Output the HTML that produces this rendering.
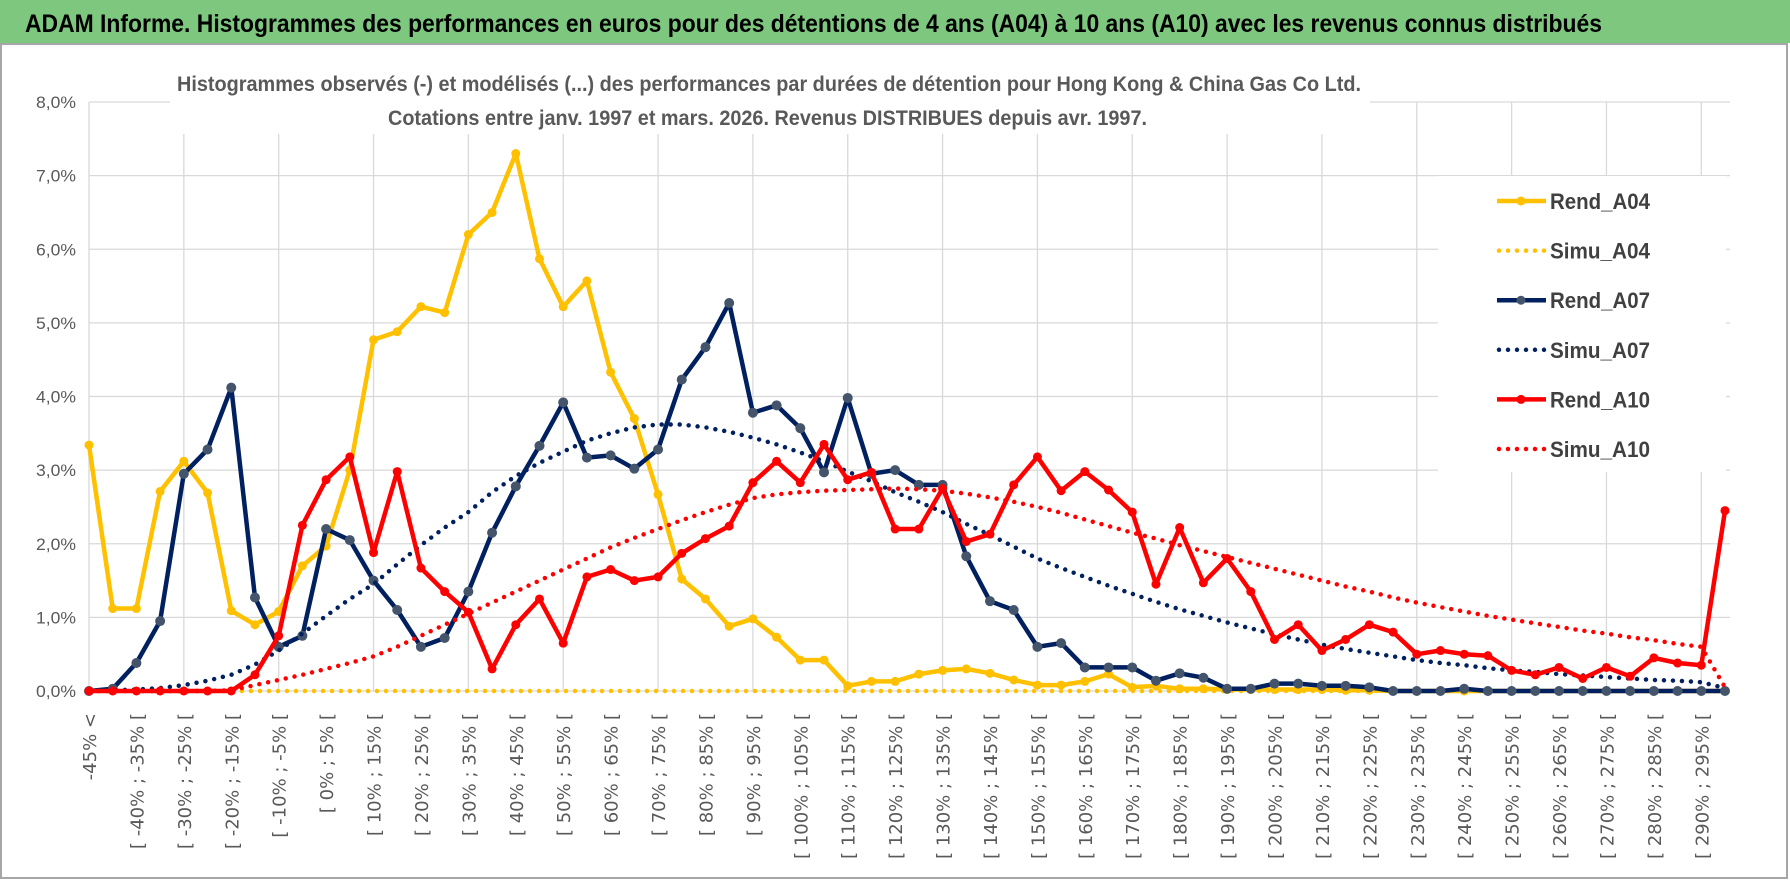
<!DOCTYPE html>
<html><head><meta charset="utf-8"><style>
html,body{margin:0;padding:0;background:#fff;}
svg{display:block;}
text{font-family:"Liberation Sans",sans-serif;}
</style></head><body>
<svg id="chart" width="1790" height="888" viewBox="0 0 1790 888" xmlns="http://www.w3.org/2000/svg">
<rect x="0" y="0" width="1790" height="888" fill="#fff"/>
<rect x="1" y="44" width="1786" height="834" fill="none" stroke="#A6A6A6" stroke-width="2"/>
<rect x="0" y="0" width="1790" height="43" fill="#7DC77E"/>
<text x="25" y="32" font-size="25" font-weight="bold" fill="#000" textLength="1577" lengthAdjust="spacingAndGlyphs">ADAM Informe. Histogrammes des performances en euros pour des détentions de 4 ans (A04) à 10 ans (A10) avec les revenus connus distribués</text>
<g id="grid"></g>
<rect x="170" y="62" width="1200" height="72" fill="#fff"/>
<text x="177" y="91" font-size="21" font-weight="bold" fill="#595959" textLength="1184" lengthAdjust="spacingAndGlyphs">Histogrammes observés (-) et modélisés (...) des performances par durées de détention pour Hong Kong &amp; China Gas Co Ltd.</text>
<text x="388" y="125" font-size="21" font-weight="bold" fill="#595959" textLength="759" lengthAdjust="spacingAndGlyphs">Cotations entre janv. 1997 et mars. 2026. Revenus DISTRIBUES depuis avr. 1997.</text>
<rect x="1438" y="176" width="288" height="296" fill="#fff"/>
<g id="yaxis"></g>
<g id="xaxis"></g>
<g id="series"></g>
<g id="legend"></g>
</svg>
<script>
const yTicks = [0,1,2,3,4,5,6,7,8];
const yTickLabels = ["0,0%","1,0%","2,0%","3,0%","4,0%","5,0%","6,0%","7,0%","8,0%"];
const categories = ["-45% <"];
for (let a = -45; a < 300; a += 5) categories.push("[ " + a + "% ; " + (a + 5) + "% [");
const rendA04 = [3.34,1.12,1.12,2.71,3.12,2.69,1.09,0.9,1.08,1.7,1.97,3.0,4.77,4.88,5.22,5.14,6.2,6.5,7.3,5.87,5.22,5.57,4.33,3.7,2.67,1.52,1.25,0.88,0.98,0.73,0.42,0.42,0.07,0.13,0.13,0.23,0.28,0.30,0.24,0.15,0.08,0.08,0.13,0.23,0.05,0.07,0.03,0.03,0.02,0.02,0.02,0.02,0.02,0.01,0.01,0,0,0,0,0,0,0,0,0,0,0,0,0,0,0];
const simuA04 = [0,0,0,0,0,0,0,0,0,0,0,0,0,0,0,0,0,0,0,0,0,0,0,0,0,0,0,0,0,0,0,0,0,0,0,0,0,0,0,0,0,0,0,0,0,0,0,0,0,0,0,0,0,0,0,0,0,0,0,0,0,0,0,0,0,0,0,0,0,0];
const rendA07 = [0,0.03,0.38,0.95,2.95,3.28,4.12,1.27,0.6,0.75,2.2,2.05,1.5,1.1,0.6,0.72,1.35,2.15,2.78,3.33,3.92,3.17,3.2,3.02,3.28,4.23,4.67,5.27,3.78,3.88,3.57,2.97,3.98,2.95,3.0,2.8,2.8,1.83,1.22,1.1,0.6,0.65,0.32,0.32,0.32,0.14,0.24,0.18,0.03,0.03,0.1,0.1,0.07,0.07,0.05,0,0,0,0.03,0,0,0,0,0,0,0,0,0,0,0];
const simuA07 = [0,0.01,0.02,0.04,0.08,0.14,0.22,0.36,0.55,0.78,1.02,1.25,1.45,1.72,1.98,2.22,2.43,2.7,2.92,3.1,3.25,3.4,3.5,3.58,3.62,3.62,3.58,3.52,3.44,3.35,3.24,3.12,2.98,2.85,2.7,2.57,2.43,2.27,2.12,1.96,1.8,1.67,1.55,1.43,1.32,1.21,1.11,1.02,0.93,0.85,0.77,0.7,0.63,0.57,0.52,0.47,0.42,0.38,0.35,0.31,0.28,0.26,0.23,0.21,0.19,0.17,0.15,0.14,0.12,0.04];
const rendA10 = [0,0,0,0,0,0,0,0.22,0.75,2.25,2.87,3.18,1.88,2.98,1.67,1.35,1.07,0.3,0.9,1.25,0.65,1.55,1.65,1.5,1.55,1.87,2.07,2.24,2.83,3.12,2.83,3.35,2.87,2.97,2.2,2.2,2.75,2.03,2.13,2.8,3.18,2.72,2.98,2.73,2.43,1.45,2.22,1.47,1.8,1.35,0.7,0.9,0.55,0.7,0.9,0.8,0.5,0.55,0.5,0.48,0.28,0.22,0.32,0.17,0.32,0.2,0.45,0.38,0.35,2.45];
const simuA10 = [0,0,0,0,0,0,0.01,0.08,0.15,0.22,0.3,0.38,0.47,0.6,0.75,0.9,1.05,1.2,1.35,1.5,1.65,1.8,1.95,2.08,2.2,2.32,2.43,2.53,2.62,2.67,2.7,2.72,2.73,2.74,2.75,2.74,2.72,2.68,2.63,2.57,2.5,2.42,2.33,2.24,2.15,2.07,1.98,1.9,1.82,1.74,1.66,1.58,1.5,1.42,1.35,1.27,1.2,1.14,1.08,1.02,0.97,0.92,0.87,0.82,0.78,0.73,0.69,0.64,0.6,0.05];
const legendNames = ["Rend_A04","Simu_A04","Rend_A07","Simu_A07","Rend_A10","Simu_A10"];

const NS = "http://www.w3.org/2000/svg";
const X0 = 89, X1 = 1725, Y0 = 691, Y8 = 102;
function xPos(i){ return X0 + i * (X1 - X0) / (categories.length - 1); }
function yPos(v){ return Y0 - v * (Y0 - Y8) / 8; }
function mk(tag, attrs, parent){ const e = document.createElementNS(NS, tag); for (const k in attrs) e.setAttribute(k, attrs[k]); parent.appendChild(e); return e; }

const grid = document.getElementById('grid');
yTicks.forEach(function(t){
  const l = mk('line', {x1: X0, x2: 1730, y1: yPos(t), y2: yPos(t), stroke: '#D9D9D9', 'stroke-width': 1.3}, grid);
  
  
});
for (let i = 0; i < categories.length; i += 4) {
  const l = mk('line', {x1: xPos(i), x2: xPos(i), y1: yPos(8), y2: Y0, stroke: '#D9D9D9', 'stroke-width': 1.3}, grid);
  
  
}
const yaxis = document.getElementById('yaxis');
yTicks.forEach(function(t, k){
  const tx = mk('text', {x: 76, y: yPos(t) + 6, 'text-anchor': 'end', 'font-size': 17, fill: '#595959', textLength: 40, lengthAdjust: 'spacingAndGlyphs'}, yaxis);
  tx.textContent = yTickLabels[k];
  
  
});
const xaxis = document.getElementById('xaxis');
for (let i = 0; i < categories.length; i += 2) {
  const x = xPos(i) + 7, y = 713;
  const tx = mk('text', {x: x, y: y, 'text-anchor': 'end', 'font-size': 18, fill: '#595959', transform: 'rotate(-90 ' + x + ' ' + y + ')', style: 'font-family:"DejaVu Sans",sans-serif'}, xaxis);
  tx.textContent = categories[i];
  
  
}
const series = document.getElementById('series');
function pts(arr){ return arr.map(function(v, i){ return xPos(i).toFixed(1) + ',' + yPos(v).toFixed(1); }).join(' '); }
function solid(arr, color, mcolor, r, name){
  const g = mk('g', {}, series);
  
  
  const pl = mk('polyline', {points: pts(arr), fill: 'none', stroke: color, 'stroke-width': 4.5, 'stroke-linejoin': 'round'}, g);
  
  
  arr.forEach(function(v, i){
    const c = mk('circle', {cx: xPos(i), cy: yPos(v), r: r, fill: mcolor}, g);
    
    
  });
}
function dotted(arr, color, name){
  const pl = mk('polyline', {points: pts(arr), fill: 'none', stroke: color, 'stroke-width': 4.5, 'stroke-linecap': 'round', 'stroke-dasharray': '0 9'}, series);
  
  
}
solid(rendA04, '#FFC000', '#FFC000', 4.5, 'rend-a04');
dotted(simuA04, '#FFC000', 'simu-a04');
solid(rendA07, '#002060', '#44546A', 5, 'rend-a07');
dotted(simuA07, '#002060', 'simu-a07');
solid(rendA10, '#FF0000', '#FF0000', 4.5, 'rend-a10');
dotted(simuA10, '#FF0000', 'simu-a10');

const legend = document.getElementById('legend');
const legColors = ['#FFC000','#FFC000','#002060','#002060','#FF0000','#FF0000'];
legendNames.forEach(function(n, k){
  const y = 201 + k * 49.6;
  const g = mk('g', {}, legend);
  
  
  if (k % 2 === 0) {
    mk('line', {x1: 1497, x2: 1546, y1: y, y2: y, stroke: legColors[k], 'stroke-width': 4.5}, g);
    mk('circle', {cx: 1521, cy: y, r: 4.5, fill: k === 2 ? '#44546A' : legColors[k]}, g);
  } else {
    mk('line', {x1: 1499, x2: 1546, y1: y, y2: y, stroke: legColors[k], 'stroke-width': 4.5, 'stroke-linecap': 'round', 'stroke-dasharray': '0 9'}, g);
  }
  const tx = mk('text', {x: 1550, y: y + 8, 'font-size': 22, 'font-weight': 'bold', fill: '#404040', textLength: 100, lengthAdjust: 'spacingAndGlyphs'}, g);
  tx.textContent = n;
});
</script>
</body></html>
